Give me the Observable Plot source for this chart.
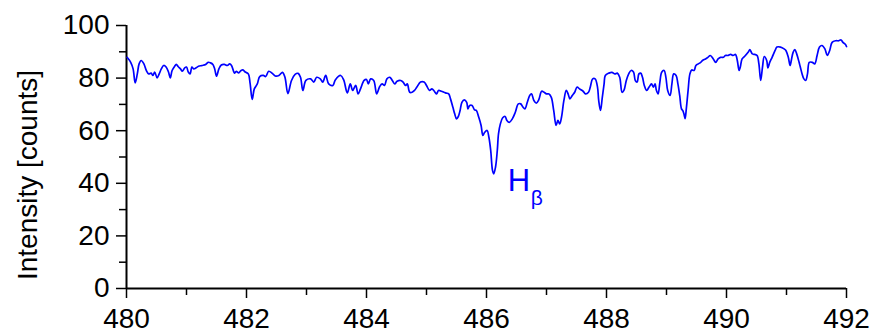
<!DOCTYPE html>
<html>
<head>
<meta charset="utf-8">
<script src="https://cdn.jsdelivr.net/npm/d3@7"></script>
<script src="https://cdn.jsdelivr.net/npm/@observablehq/plot@0.6"></script>
<style>
  html, body { margin: 0; padding: 0; background: #fff; }
  #chart { width: 874px; height: 333px; }
</style>
</head>
<body>
<div id="chart"></div>
<script>
// Spectrum around the H-beta line: wavelength (nm) and detector counts
const wavelength = [
  480.01, 480.07, 480.11, 480.145, 480.18, 480.21, 480.245, 480.29, 480.33, 480.37,
  480.41, 480.44, 480.47, 480.51, 480.545, 480.58, 480.62, 480.66, 480.70, 480.73,
  480.76, 480.80, 480.83, 480.86, 480.90, 480.93, 480.97, 481.00, 481.03, 481.06,
  481.09, 481.12, 481.16, 481.20, 481.26, 481.32, 481.36, 481.40, 481.44, 481.47,
  481.50, 481.54, 481.58, 481.63, 481.68, 481.72, 481.75, 481.78, 481.80, 481.83,
  481.87, 481.91, 481.94, 481.98, 482.03, 482.06, 482.095, 482.13, 482.18, 482.22,
  482.28, 482.32, 482.37, 482.43, 482.48, 482.54, 482.60, 482.64, 482.69, 482.75,
  482.81, 482.86, 482.90, 482.94, 482.99, 483.07, 483.12, 483.17, 483.23, 483.27,
  483.32, 483.37, 483.44, 483.48, 483.57, 483.62, 483.68, 483.73, 483.77, 483.82,
  483.86, 483.90, 483.96, 484.00, 484.03, 484.07, 484.12, 484.17, 484.22, 484.26,
  484.30, 484.34, 484.39, 484.43, 484.47, 484.51, 484.57, 484.61, 484.65, 484.68,
  484.72, 484.76, 484.80, 484.84, 484.90, 484.96, 485.00, 485.05, 485.09, 485.13,
  485.17, 485.20, 485.25, 485.29, 485.33, 485.37, 485.40, 485.44, 485.47, 485.50,
  485.53, 485.56, 485.59, 485.63, 485.67, 485.69, 485.72, 485.76, 485.80, 485.83,
  485.87, 485.91, 485.94, 485.97, 486.01, 486.04, 486.07, 486.10, 486.12, 486.15,
  486.18, 486.20, 486.23, 486.27, 486.31, 486.34, 486.38, 486.43, 486.48, 486.53,
  486.57, 486.61, 486.64, 486.68, 486.72, 486.75, 486.79, 486.83, 486.87, 486.92,
  486.96, 487.00, 487.04, 487.08, 487.12, 487.16, 487.19, 487.22, 487.25, 487.29,
  487.33, 487.36, 487.39, 487.43, 487.47, 487.51, 487.55, 487.61, 487.65, 487.70,
  487.73, 487.77, 487.81, 487.85, 487.87, 487.90, 487.93, 487.96, 487.98, 488.04,
  488.09, 488.14, 488.18, 488.22, 488.26, 488.29, 488.33, 488.37, 488.41, 488.45,
  488.48, 488.51, 488.54, 488.57, 488.60, 488.63, 488.67, 488.71, 488.75, 488.78,
  488.81, 488.83, 488.86, 488.89, 488.92, 488.96, 488.99, 489.02, 489.06, 489.09,
  489.12, 489.16, 489.19, 489.22, 489.25, 489.27, 489.29, 489.31, 489.33, 489.36,
  489.39, 489.42, 489.46, 489.49, 489.53, 489.57, 489.60, 489.65, 489.69, 489.73,
  489.78, 489.82, 489.86, 489.90, 489.95, 489.98, 490.02, 490.07, 490.11, 490.15,
  490.18, 490.21, 490.23, 490.26, 490.30, 490.36, 490.39, 490.43, 490.47, 490.51,
  490.54, 490.57, 490.60, 490.63, 490.67, 490.69, 490.72, 490.76, 490.81, 490.84,
  490.90, 490.96, 490.99, 491.03, 491.06, 491.08, 491.11, 491.14, 491.17, 491.21,
  491.23, 491.26, 491.29, 491.32, 491.35, 491.38, 491.43, 491.47, 491.51, 491.55,
  491.59, 491.64, 491.68, 491.72, 491.76, 491.82, 491.87, 491.91, 491.94, 491.98,
  492.00
];

const intensity = [
  87.9, 86.0, 83.5, 78.2, 81.6, 85.4, 86.7, 85.4, 82.9, 81.6,
  81.9, 81.0, 82.3, 80.1, 81.6, 83.5, 84.8, 84.2, 82.3, 80.1,
  82.9, 84.4, 85.2, 84.4, 83.5, 82.6, 83.9, 84.2, 82.3, 81.6,
  84.2, 83.5, 83.9, 84.5, 84.8, 85.2, 86.0, 85.8, 85.2, 83.5,
  80.7, 83.5, 85.0, 85.2, 84.8, 85.4, 84.8, 82.9, 81.9, 82.6,
  82.0, 82.9, 83.1, 82.3, 81.6, 78.0, 71.9, 75.9, 77.8, 80.6,
  81.0, 80.6, 82.6, 81.8, 80.8, 81.0, 82.2, 80.4, 74.1, 79.1,
  81.4, 81.8, 80.3, 75.3, 79.1, 79.7, 78.5, 80.3, 79.7, 78.5,
  81.0, 77.8, 77.2, 79.3, 81.0, 79.3, 74.4, 77.8, 75.3, 77.2,
  74.0, 75.9, 79.1, 79.5, 77.8, 79.7, 79.1, 74.0, 76.8, 77.8,
  77.2, 79.7, 80.3, 79.1, 77.8, 78.8, 79.1, 78.5, 77.2, 77.8,
  74.6, 74.6, 75.3, 76.6, 78.5, 78.5, 77.2, 75.3, 75.9, 75.0,
  74.0, 75.3, 75.0, 74.6, 74.3, 74.0, 72.1, 68.9, 66.4, 64.5,
  65.4, 67.7, 70.8, 71.7, 70.8, 68.3, 69.6, 69.6, 67.9, 67.7,
  65.2, 62.0, 58.2, 59.4, 60.1, 57.5, 52.5, 44.9, 43.6, 46.1,
  52.5, 58.8, 62.5, 64.9, 65.4, 63.9, 63.2, 64.5, 67.0, 70.2,
  70.2, 68.9, 68.3, 70.8, 73.4, 74.0, 71.5, 70.5, 71.7, 75.0,
  74.6, 74.0, 74.0, 72.7, 67.7, 62.0, 63.9, 62.6, 65.1, 71.5,
  75.3, 74.0, 72.1, 73.4, 74.6, 76.6, 75.9, 75.0, 74.0, 74.6,
  76.6, 79.7, 79.7, 76.6, 71.5, 67.7, 72.7, 77.8, 81.0, 81.9,
  82.2, 81.6, 81.9, 80.3, 74.6, 75.3, 79.1, 81.6, 82.9, 82.3,
  79.1, 78.5, 81.6, 81.9, 80.3, 77.2, 75.3, 76.6, 77.8, 76.6,
  77.8, 75.5, 74.0, 78.5, 82.2, 82.9, 80.3, 75.3, 73.4, 77.8,
  81.6, 81.0, 77.8, 73.4, 68.3, 67.7, 66.4, 64.6, 68.3, 75.3,
  81.6, 83.1, 82.9, 84.8, 85.4, 86.0, 86.7, 87.3, 87.9, 88.6,
  87.3, 86.0, 87.3, 87.9, 87.9, 88.6, 88.6, 89.0, 88.6, 89.0,
  86.7, 82.9, 84.2, 87.3, 88.2, 89.8, 90.8, 89.2, 89.0, 88.6,
  85.4, 79.1, 84.2, 88.2, 86.7, 83.9, 86.0, 87.9, 90.5, 91.8,
  91.8, 91.1, 90.5, 87.9, 84.8, 86.7, 89.8, 90.8, 89.2, 86.0,
  84.2, 81.6, 79.7, 79.1, 81.6, 86.0, 86.0, 85.4, 88.6, 91.8,
  92.4, 91.1, 88.6, 90.5, 93.6, 94.2, 94.2, 94.5, 93.6, 92.9,
  92.0
];

// Axis ticks
const xMajorTicks = [480, 482, 484, 486, 488, 490, 492];
const xMinorTicks = [481, 483, 485, 487, 489, 491];
const yMajorTicks = [0, 20, 40, 60, 80, 100];
const yMinorTicks = [10, 30, 50, 70, 90];

const yTitle = "Intensity [counts]";
const lineName = "H";
const lineSub = "β";

const spectrum = wavelength.map((w, i) => ({w, v: intensity[i]}));

// The H-beta absorption minimum, used to anchor its label
const hBeta = spectrum.reduce((a, b) => (b.v < a.v ? b : a));

const blue = "#0000ff";

const chart = Plot.plot({
  width: 874,
  height: 333,
  marginLeft: 126,
  marginRight: 28,
  marginTop: 25,
  marginBottom: 45,
  style: {
    fontFamily: "'Liberation Sans', Arial, sans-serif",
    fontSize: "27px",
    color: "#000",
    background: "#fff",
    overflow: "visible"
  },
  x: {domain: [480, 492]},
  y: {domain: [0, 100]},
  marks: [
    Plot.axisX({ticks: xMinorTicks, tickSize: 7, tickFormat: () => "", label: null, strokeWidth: 1.5}),
    Plot.axisX({ticks: xMajorTicks, tickSize: 10, tickPadding: 10, tickFormat: d => String(d), label: null, strokeWidth: 1.5, fontSize: 28}),
    Plot.axisY({ticks: yMinorTicks, tickSize: 7, tickFormat: () => "", label: null, strokeWidth: 1.5}),
    Plot.axisY({ticks: yMajorTicks, tickSize: 10, tickPadding: 7, tickFormat: d => String(d), label: null, strokeWidth: 1.5, fontSize: 28}),
    Plot.ruleY([0], {strokeWidth: 2}),
    Plot.ruleX([480], {strokeWidth: 2}),
    Plot.line(spectrum, {x: "w", y: "v", stroke: blue, strokeWidth: 1.7, curve: "catmull-rom"}),
    Plot.text([yTitle], {
      text: d => d, frameAnchor: "left", textAnchor: "middle", rotate: -90,
      dx: -98, dy: 18, fontSize: 28, fill: "#000"
    }),
    Plot.text([hBeta], {
      x: "w", y: "v", text: () => lineName, textAnchor: "start", lineAnchor: "middle",
      dx: 14, dy: 7, fontSize: 31, fill: blue
    }),
    Plot.text([hBeta], {
      x: "w", y: "v", text: () => lineSub, textAnchor: "start", lineAnchor: "middle",
      dx: 37, dy: 24, fontSize: 21, fill: blue
    })
  ]
});

document.getElementById("chart").appendChild(chart);
</script>
</body>
</html>
